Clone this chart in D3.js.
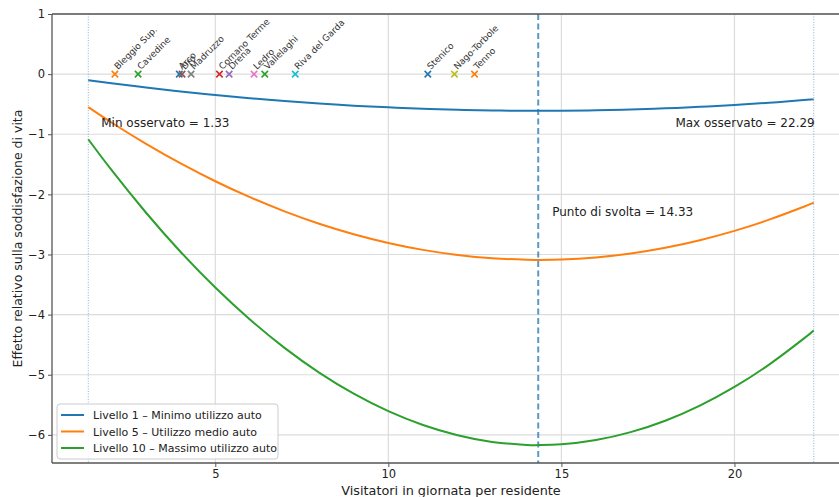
<!DOCTYPE html>
<html><head><meta charset="utf-8">
<script src="https://cdn.jsdelivr.net/npm/d3@7"></script>
<style>
body{margin:0;background:#fff;}
svg{display:block;font-family:"DejaVu Sans",sans-serif;}
</style></head>
<body><svg id="c" width="839" height="497"></svg>
<script>
// x values where the curves were read
const xs = [1.33,2,3,4,5,6,7,8,9,10,11,12,13,14,14.33,15,16,17,18,19,20,21,22,22.29];
const level1 = [-0.100,-0.151,-0.222,-0.288,-0.347,-0.400,-0.448,-0.489,-0.524,-0.553,-0.577,-0.594,-0.605,-0.610,-0.610,-0.609,-0.602,-0.588,-0.569,-0.544,-0.513,-0.476,-0.432,-0.419];
const level5 = [-0.550,-0.805,-1.161,-1.486,-1.782,-2.047,-2.282,-2.488,-2.663,-2.808,-2.923,-3.008,-3.063,-3.088,-3.090,-3.083,-3.048,-2.983,-2.888,-2.762,-2.607,-2.421,-2.206,-2.138];
const level10 = [-1.083,-1.594,-2.306,-2.958,-3.550,-4.081,-4.553,-4.964,-5.315,-5.606,-5.836,-6.007,-6.117,-6.167,-6.170,-6.157,-6.086,-5.955,-5.765,-5.514,-5.202,-4.831,-4.399,-4.263];
const seriesNames = ["Livello 1 – Minimo utilizzo auto","Livello 5 – Utilizzo medio auto","Livello 10 – Massimo utilizzo auto"];
const comuni = ["Arco","Bleggio Sup.","Cavedine","Comano Terme","Drena","Dro","Ledro","Madruzzo","Nago-Torbole","Riva del Garda","Stenico","Tenno","Vallelaghi"];
const comuniX = [3.96,2.10,2.77,5.12,5.40,4.04,6.12,4.30,11.91,7.31,11.14,12.49,6.43];
const minObs = 1.33, maxObs = 22.29, turning = 14.33;
const xTicks = [5,10,15,20];
const yTicks = [-6,-5,-4,-3,-2,-1,0,1];

const tab10 = ["#1f77b4","#ff7f0e","#2ca02c","#d62728","#9467bd","#8c564b","#e377c2","#7f7f7f","#bcbd22","#17becf"];
const svg = d3.select("#c");
const L = 52, T = 14, R = 850, B = 463;
const x = d3.scaleLinear().domain([0.282, 23.338]).range([L, R]);
const y = d3.scaleLinear().domain([-6.468, 1]).range([B, T]);

const defs = svg.append("defs");
defs.append("clipPath").attr("id","pc").append("rect").attr("x",L).attr("y",T).attr("width",R-L).attr("height",B-T);

// grid
const g = svg.append("g");
g.selectAll(".gx").data(xTicks).join("line").attr("x1",d=>x(d)).attr("x2",d=>x(d)).attr("y1",T).attr("y2",B).attr("stroke","#dcdcdc").attr("stroke-width",1.2);
g.selectAll(".gy").data(yTicks).join("line").attr("x1",L).attr("x2",R).attr("y1",d=>y(d)).attr("y2",d=>y(d)).attr("stroke","#dcdcdc").attr("stroke-width",1.2);

const plot = svg.append("g").attr("clip-path","url(#pc)");
// vertical reference lines
[minObs,maxObs].forEach(v=>{
  plot.append("line").attr("x1",x(v)).attr("x2",x(v)).attr("y1",T).attr("y2",B)
    .attr("stroke","#1f77b4").attr("stroke-opacity",0.55).attr("stroke-width",1).attr("stroke-dasharray","1,1.6");
});
plot.append("line").attr("x1",x(turning)).attr("x2",x(turning)).attr("y1",T).attr("y2",B)
  .attr("stroke","#1f77b4").attr("stroke-opacity",0.75).attr("stroke-width",2).attr("stroke-dasharray","6,3.5");

// curves
const line = d3.line().x(d=>x(d[0])).y(d=>y(d[1])).curve(d3.curveNatural);
[level1,level5,level10].forEach((s,i)=>{
  plot.append("path").attr("d",line(xs.map((v,j)=>[v,s[j]]))).attr("fill","none").attr("stroke",tab10[i]).attr("stroke-width",2);
});

// comuni markers
comuni.forEach((n,i)=>{
  const c = tab10[i%10], px = x(comuniX[i]), py = y(0), s = 3.2;
  plot.append("path").attr("d",`M${px-s},${py-s}L${px+s},${py+s}M${px-s},${py+s}L${px+s},${py-s}`).attr("stroke",c).attr("stroke-width",1.6);
});
comuni.forEach((n,i)=>{
  const px = x(comuniX[i]), py = y(0);
  svg.append("text").attr("transform",`translate(${px+3},${py-4}) rotate(-45)`).attr("font-size",9).attr("fill","#333").text(n);
});

// annotations
svg.append("text").attr("x",x(minObs)+13).attr("y",y(-0.81)+4).attr("font-size",12).attr("fill","#222").text("Min osservato = "+minObs.toFixed(2));
svg.append("text").attr("x",x(maxObs)+1).attr("y",y(-0.81)+4).attr("text-anchor","end").attr("font-size",12).attr("fill","#222").text("Max osservato = "+maxObs.toFixed(2));
svg.append("text").attr("x",x(turning)+14).attr("y",y(-2.3)+4).attr("font-size",12).attr("fill","#222").text("Punto di svolta = "+turning.toFixed(2));

// axes spines
svg.append("line").attr("x1",L).attr("x2",L).attr("y1",T).attr("y2",B).attr("stroke","#555").attr("stroke-width",1.3);
svg.append("line").attr("x1",L).attr("x2",R).attr("y1",B).attr("y2",B).attr("stroke","#555").attr("stroke-width",1.3);
svg.append("line").attr("x1",L).attr("x2",R).attr("y1",T).attr("y2",T).attr("stroke","#555").attr("stroke-width",1.3);

const xa = svg.append("g").attr("transform",`translate(0,${B})`).call(d3.axisBottom(x).tickValues(xTicks).tickSize(4).tickPadding(3).tickFormat(d3.format("d")));
const ya = svg.append("g").attr("transform",`translate(${L},0)`).call(d3.axisLeft(y).tickValues(yTicks).tickSize(4).tickPadding(3).tickFormat(d3.format("d")));
[xa,ya].forEach(a=>{a.select(".domain").remove();a.selectAll("line").attr("stroke","#555");a.selectAll("text").attr("font-size",11.5).attr("fill","#222").attr("font-family","DejaVu Sans");});

svg.append("text").attr("x",(L+R)/2).attr("y",495).attr("text-anchor","middle").attr("font-size",12.8).attr("fill","#222").text("Visitatori in giornata per residente");
svg.append("text").attr("transform",`translate(22,${(T+B)/2}) rotate(-90)`).attr("text-anchor","middle").attr("font-size",12.5).attr("fill","#222").text("Effetto relativo sulla soddisfazione di vita");

// legend
const lg = svg.append("g").attr("transform","translate(57,404)");
lg.append("rect").attr("width",221).attr("height",55).attr("rx",3).attr("fill","#fff").attr("fill-opacity",0.85).attr("stroke","#ccc");
seriesNames.forEach((n,i)=>{
  const yy = 11 + i*16.5;
  lg.append("line").attr("x1",4).attr("x2",27).attr("y1",yy).attr("y2",yy).attr("stroke",tab10[i]).attr("stroke-width",2);
  lg.append("text").attr("x",36).attr("y",yy+4).attr("font-size",11).attr("fill","#222").text(n);
});
</script></body></html>
